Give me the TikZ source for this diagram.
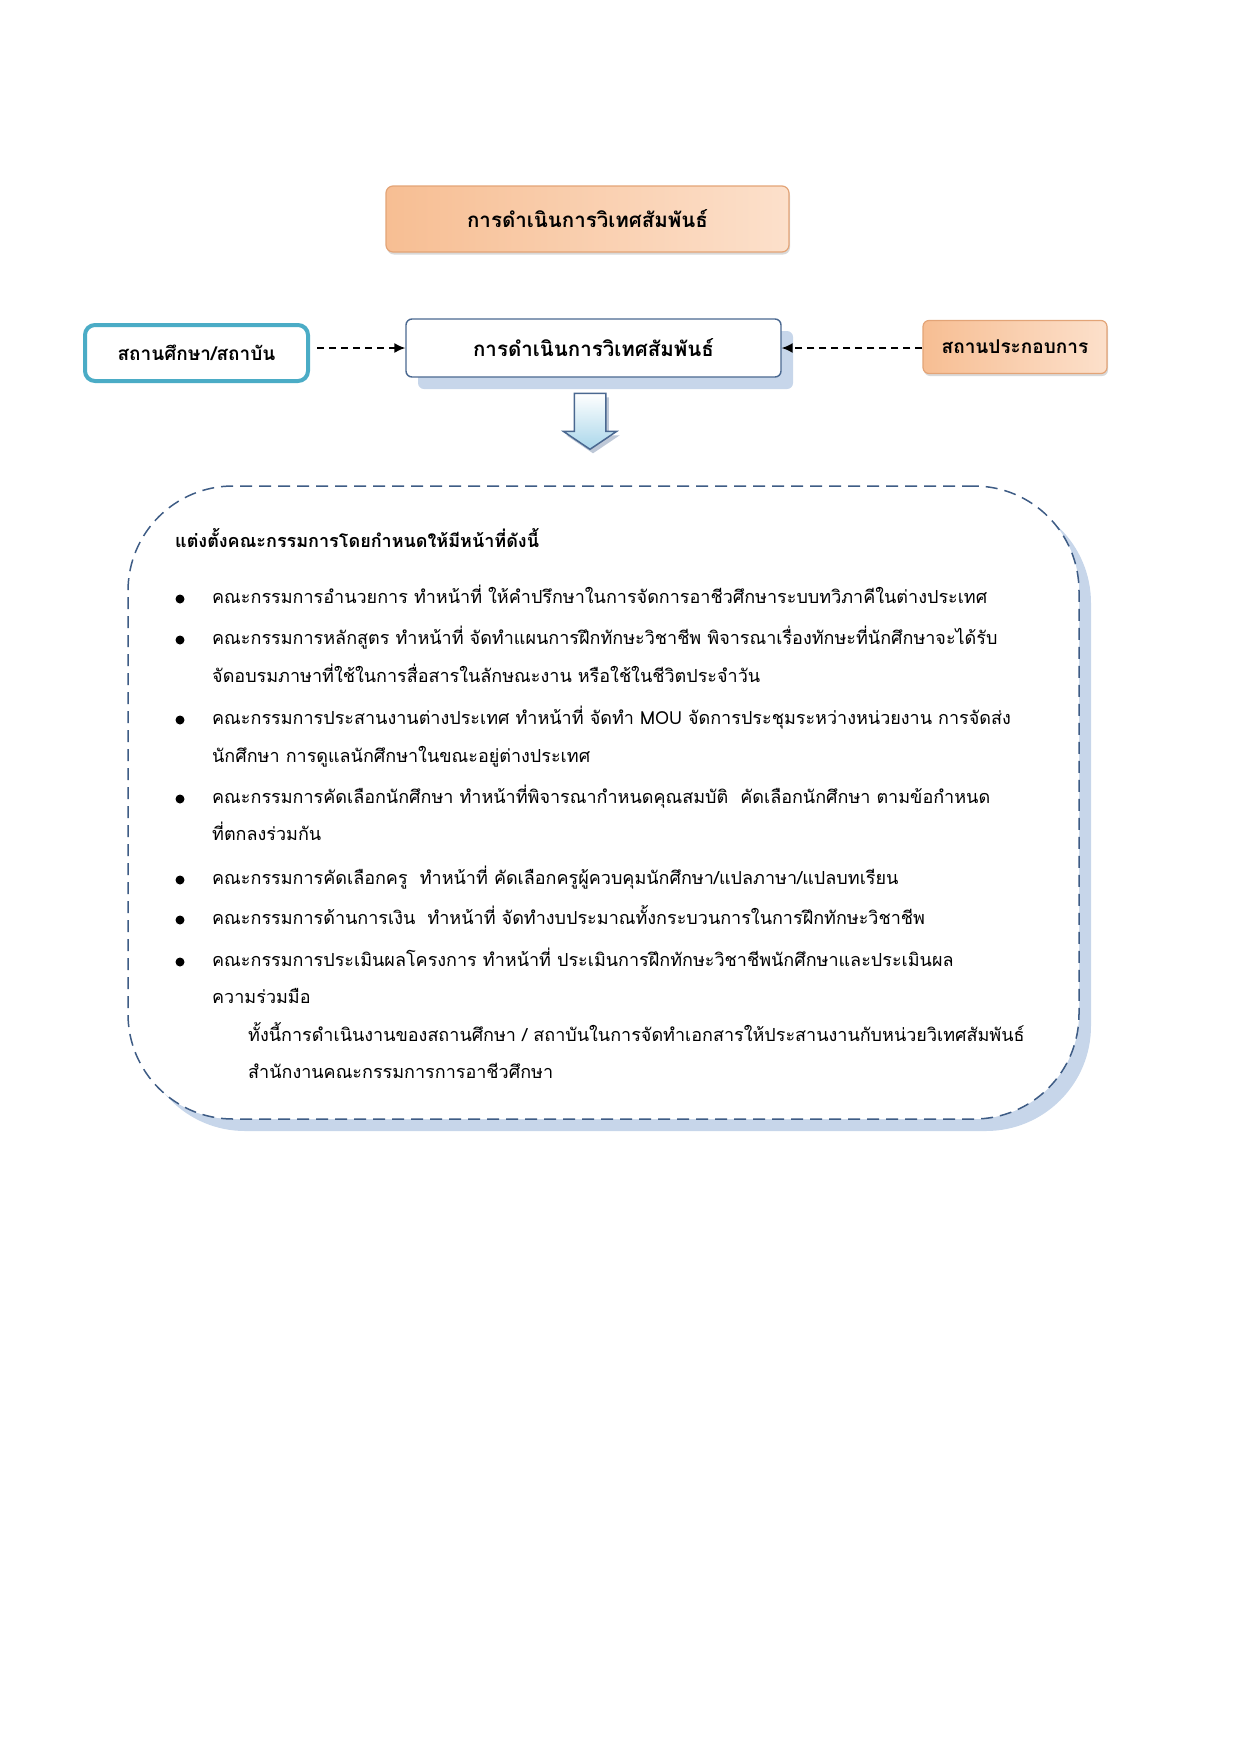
\documentclass[tikz,border=0pt]{standalone}
\usepackage{fontspec}
\setmainfont{Loma}[Script=Thai]
\usetikzlibrary{arrows.meta, positioning, shapes.arrows, shadows}
\definecolor{peachA}{HTML}{F7BE93}
\definecolor{peachB}{HTML}{FCE0CB}
\definecolor{peachLine}{HTML}{E3A477}
\definecolor{tealLine}{HTML}{4BACC6}
\definecolor{slateLine}{HTML}{4A6890}
\definecolor{paleBlue}{HTML}{C7D6EA}
\definecolor{dashBlue}{HTML}{3E5C85}
\definecolor{iceBlue}{HTML}{A9D6EA}

\begin{document}
\begin{tikzpicture}[x=1pt, y=-1pt, >=Latex,
  peach/.style={draw=peachLine, line width=1.2pt, rounded corners=7pt, left color=peachA, right color=peachB,
    drop shadow={opacity=0.3, shadow xshift=1pt, shadow yshift=-2.5pt}, inner sep=0pt,
    font=\fontsize{20.5}{24}\selectfont\bfseries},
  hubbox/.style={draw=slateLine, line width=1.4pt, rounded corners=6pt, fill=white, inner sep=0pt,
    font=\fontsize{20.5}{24}\selectfont\bfseries},
  link/.style={draw=black, line width=1.6pt, dash pattern=on 7pt off 5pt, -{Latex[length=11pt, width=10pt]}},
  dotmark/.style={circle, fill=black, inner sep=0pt, minimum size=9pt},
  textline/.style={anchor=west, inner sep=0pt, text height=14pt, text depth=5pt, font=\fontsize{18}{22}\selectfont}]

\useasboundingbox (0,0) rectangle (1241,1754);

% top title
\node (title) [peach, minimum width=403pt, minimum height=66pt] at (587.5,219) {การดำเนินการวิเทศสัมพันธ์};

% middle row
\node (hubshade) [fill=paleBlue, rounded corners=6pt, minimum width=375pt, minimum height=58pt] at (605.5,360) {};
\node (hub) [hubbox, minimum width=375pt, minimum height=58pt] at (593.5,348) {การดำเนินการวิเทศสัมพันธ์};
\node (school) [draw=tealLine, line width=4pt, rounded corners=10pt, fill=white, inner sep=0pt,
  minimum width=223pt, minimum height=56pt, font=\fontsize{19}{23}\selectfont\bfseries] at (196.5,353) {สถานศึกษา/สถาบัน};
\node (firm) [peach, rounded corners=6pt, minimum width=184pt, minimum height=53pt,
  font=\fontsize{19}{23}\selectfont\bfseries] at (1015,347) {สถานประกอบการ};

\draw[link, shorten <=7pt] (school.east |- hub) -- (hub);
\draw[link] (firm.west |- hub) -- (hub);

% block arrow down
\node (down) [single arrow, shape border rotate=270, inner sep=15pt, minimum width=52pt, minimum height=56pt,
  single arrow head extend=11pt, single arrow tip angle=112,
  draw=slateLine, line width=1.5pt, top color=white, bottom color=iceBlue,
  drop shadow={fill=slateLine!60, opacity=0.6, shadow xshift=3pt, shadow yshift=-4pt}] at (590,416) {};

% dashed panel
\node (panelshade) [fill=paleBlue, rounded corners=105pt, minimum width=951pt, minimum height=633pt] at (615.5,814.5) {};
\node (panel) [draw=dashBlue, fill=white, line width=1.5pt, dash pattern=on 12pt off 7pt,
  rounded corners=105pt, minimum width=951pt, minimum height=633pt] at (603.5,802.5) {};

\node (head) [textline, font=\fontsize{18}{22}\selectfont\bfseries] at (175,543) {แต่งตั้งคณะกรรมการโดยกำหนดให้มีหน้าที่ดังนี้};

\node (d1) [dotmark] at (180,599) {};
\node (d2) [dotmark] at (180,640) {};
\node (d3) [dotmark] at (180,720) {};
\node (d4) [dotmark] at (180,799) {};
\node (d5) [dotmark] at (180,880) {};
\node (d6) [dotmark] at (180,920) {};
\node (d7) [dotmark] at (180,962) {};

\node (l1) [textline] at (212,599) {คณะกรรมการอำนวยการ ทำหน้าที่ ให้คำปรึกษาในการจัดการอาชีวศึกษาระบบทวิภาคีในต่างประเทศ};
\node (l2) [textline] at (212,640) {คณะกรรมการหลักสูตร ทำหน้าที่ จัดทำแผนการฝึกทักษะวิชาชีพ พิจารณาเรื่องทักษะที่นักศึกษาจะได้รับ};
\node (l3) [textline] at (212,678) {จัดอบรมภาษาที่ใช้ในการสื่อสารในลักษณะงาน หรือใช้ในชีวิตประจำวัน};
\node (l4) [textline] at (212,720) {คณะกรรมการประสานงานต่างประเทศ ทำหน้าที่ จัดทำ MOU จัดการประชุมระหว่างหน่วยงาน การจัดส่ง};
\node (l5) [textline] at (212,758) {นักศึกษา การดูแลนักศึกษาในขณะอยู่ต่างประเทศ};
\node (l6) [textline] at (212,799) {คณะกรรมการคัดเลือกนักศึกษา ทำหน้าที่พิจารณากำหนดคุณสมบัติ\ \ คัดเลือกนักศึกษา ตามข้อกำหนด};
\node (l7) [textline] at (212,836) {ที่ตกลงร่วมกัน};
\node (l8) [textline] at (212,880) {คณะกรรมการคัดเลือกครู\ \ ทำหน้าที่ คัดเลือกครูผู้ควบคุมนักศึกษา/แปลภาษา/แปลบทเรียน};
\node (l9) [textline] at (212,920) {คณะกรรมการด้านการเงิน\ \ ทำหน้าที่ จัดทำงบประมาณทั้งกระบวนการในการฝึกทักษะวิชาชีพ};
\node (l10) [textline] at (212,962) {คณะกรรมการประเมินผลโครงการ ทำหน้าที่ ประเมินการฝึกทักษะวิชาชีพนักศึกษาและประเมินผล};
\node (l11) [textline] at (212,999) {ความร่วมมือ};
\node (l12) [textline] at (248,1037) {ทั้งนี้การดำเนินงานของสถานศึกษา / สถาบันในการจัดทำเอกสารให้ประสานงานกับหน่วยวิเทศสัมพันธ์};
\node (l13) [textline] at (248,1074) {สำนักงานคณะกรรมการการอาชีวศึกษา};
\end{tikzpicture}
\end{document}
